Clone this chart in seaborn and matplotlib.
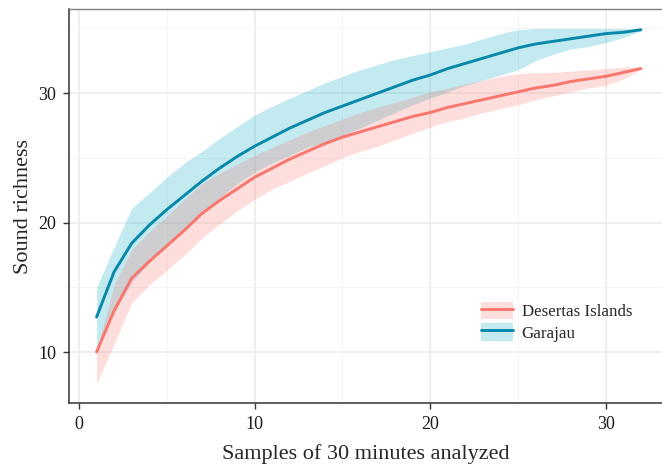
import matplotlib
matplotlib.use("Agg")
import matplotlib.pyplot as plt
import seaborn as sns
import pandas as pd
from matplotlib.lines import Line2D
from matplotlib.patches import Patch
from matplotlib.ticker import MultipleLocator

# rarefaction curves
samples = list(range(1, 33))

garajau_mean = [12.7, 16.2, 18.4, 19.8, 21.0, 22.1, 23.2, 24.2, 25.1, 25.9, 26.6, 27.3,
                27.9, 28.5, 29.0, 29.5, 30.0, 30.5, 31.0, 31.4, 31.9, 32.3, 32.7, 33.1,
                33.5, 33.8, 34.0, 34.2, 34.4, 34.6, 34.7, 34.9]
garajau_upper = [15.0, 18.1, 21.1, 22.3, 23.5, 24.6, 25.5, 26.5, 27.4, 28.3, 29.0, 29.6,
                 30.2, 30.8, 31.3, 31.8, 32.2, 32.6, 32.9, 33.2, 33.5, 33.8, 34.2, 34.6,
                 34.9, 35.0, 35.0, 35.0, 35.0, 35.0, 35.0, 34.9]
garajau_lower = [10.1, 13.0, 15.4, 16.9, 18.3, 19.5, 20.7, 21.9, 23.0, 23.9, 24.6, 25.2,
                 25.8, 26.2, 26.7, 27.3, 27.9, 28.5, 29.1, 29.6, 30.1, 30.6, 31.0, 31.4,
                 31.8, 32.5, 33.0, 33.4, 33.6, 33.9, 34.3, 34.8]

desertas_mean = [10.0, 13.2, 15.7, 17.0, 18.2, 19.4, 20.7, 21.7, 22.6, 23.5, 24.2, 24.9,
                 25.5, 26.1, 26.6, 27.0, 27.4, 27.8, 28.2, 28.5, 28.9, 29.2, 29.5, 29.8,
                 30.1, 30.4, 30.6, 30.9, 31.1, 31.3, 31.6, 31.9]
desertas_upper = [10.1, 15.2, 17.9, 19.3, 20.5, 21.8, 23.0, 23.8, 24.5, 25.2, 25.8, 26.4,
                  27.0, 27.5, 28.0, 28.5, 28.9, 29.3, 29.7, 30.1, 30.4, 30.7, 31.0, 31.3,
                  31.5, 31.6, 31.6, 31.7, 31.8, 31.9, 32.0, 32.0]
desertas_lower = [7.6, 10.6, 13.8, 15.2, 16.3, 17.5, 18.8, 19.9, 20.9, 21.8, 22.6, 23.2,
                  23.8, 24.4, 25.0, 25.5, 25.9, 26.4, 26.9, 27.4, 27.8, 28.1, 28.5, 28.8,
                  29.1, 29.5, 29.8, 30.1, 30.4, 30.6, 31.1, 31.8]

sites = ["Desertas Islands", "Garajau"]
line_colors = {"Desertas Islands": "#F8766D", "Garajau": "#0788A9"}
fill_colors = {"Desertas Islands": "#F8766D", "Garajau": "#00A8C2"}

df = pd.DataFrame({
    "samples": samples * 2,
    "richness": desertas_mean + garajau_mean,
    "site": [sites[0]] * 32 + [sites[1]] * 32,
})

sns.set_style("white")
plt.rcParams["font.family"] = ["Liberation Serif", "DejaVu Serif"]

fig = plt.figure(figsize=(6.62, 4.67), dpi=100)
ax = fig.add_axes([0.1042, 0.137, 0.8958, 0.8437])

ax.fill_between(samples, garajau_lower, garajau_upper, color=fill_colors["Garajau"],
                alpha=0.24, linewidth=0, zorder=2)
ax.fill_between(samples, desertas_lower, desertas_upper, color=fill_colors["Desertas Islands"],
                alpha=0.24, linewidth=0, zorder=2)
sns.lineplot(data=df, x="samples", y="richness", hue="site", palette=line_colors,
             linewidth=2.1, ax=ax, legend=False, zorder=3)

ax.set_xlim(-0.57, 33.2)
ax.set_ylim(6.06, 36.5)
ax.xaxis.set_major_locator(MultipleLocator(10))
ax.xaxis.set_minor_locator(MultipleLocator(5))
ax.yaxis.set_major_locator(MultipleLocator(10))
ax.yaxis.set_minor_locator(MultipleLocator(5))
ax.grid(which="major", color="#ebebeb", linewidth=1.1, zorder=0)
ax.grid(which="minor", color="#f2f2f2", linewidth=0.6, zorder=0)
ax.set_axisbelow(True)

for side in ["left", "bottom"]:
    ax.spines[side].set_color("#333333")
    ax.spines[side].set_linewidth(1.1)
ax.spines["top"].set_color("#7f7f7f")
ax.spines["top"].set_linewidth(1.0)
ax.spines["right"].set_visible(False)

ax.tick_params(which="major", direction="out", length=4, width=1.0, color="#333333",
               labelsize=13, labelcolor="#1a1a1a", pad=5, left=True, bottom=True)
ax.tick_params(which="minor", length=0)

ax.set_xlabel("Samples of 30 minutes analyzed", fontsize=16, labelpad=8)
ax.set_ylabel("Sound richness", fontsize=16, labelpad=4)

handles = []
for s in sites:
    handles.append((Patch(facecolor=fill_colors[s], alpha=0.24, edgecolor="none"),
                    Line2D([], [], color=line_colors[s], linewidth=2.1)))
ax.legend(handles, sites, loc="center left", bbox_to_anchor=(0.669, 0.206),
          frameon=False, fontsize=12.2, handlelength=1.9, handleheight=1.2,
          handletextpad=0.5, labelspacing=0.16)

fig.savefig("out.png", dpi=100)
